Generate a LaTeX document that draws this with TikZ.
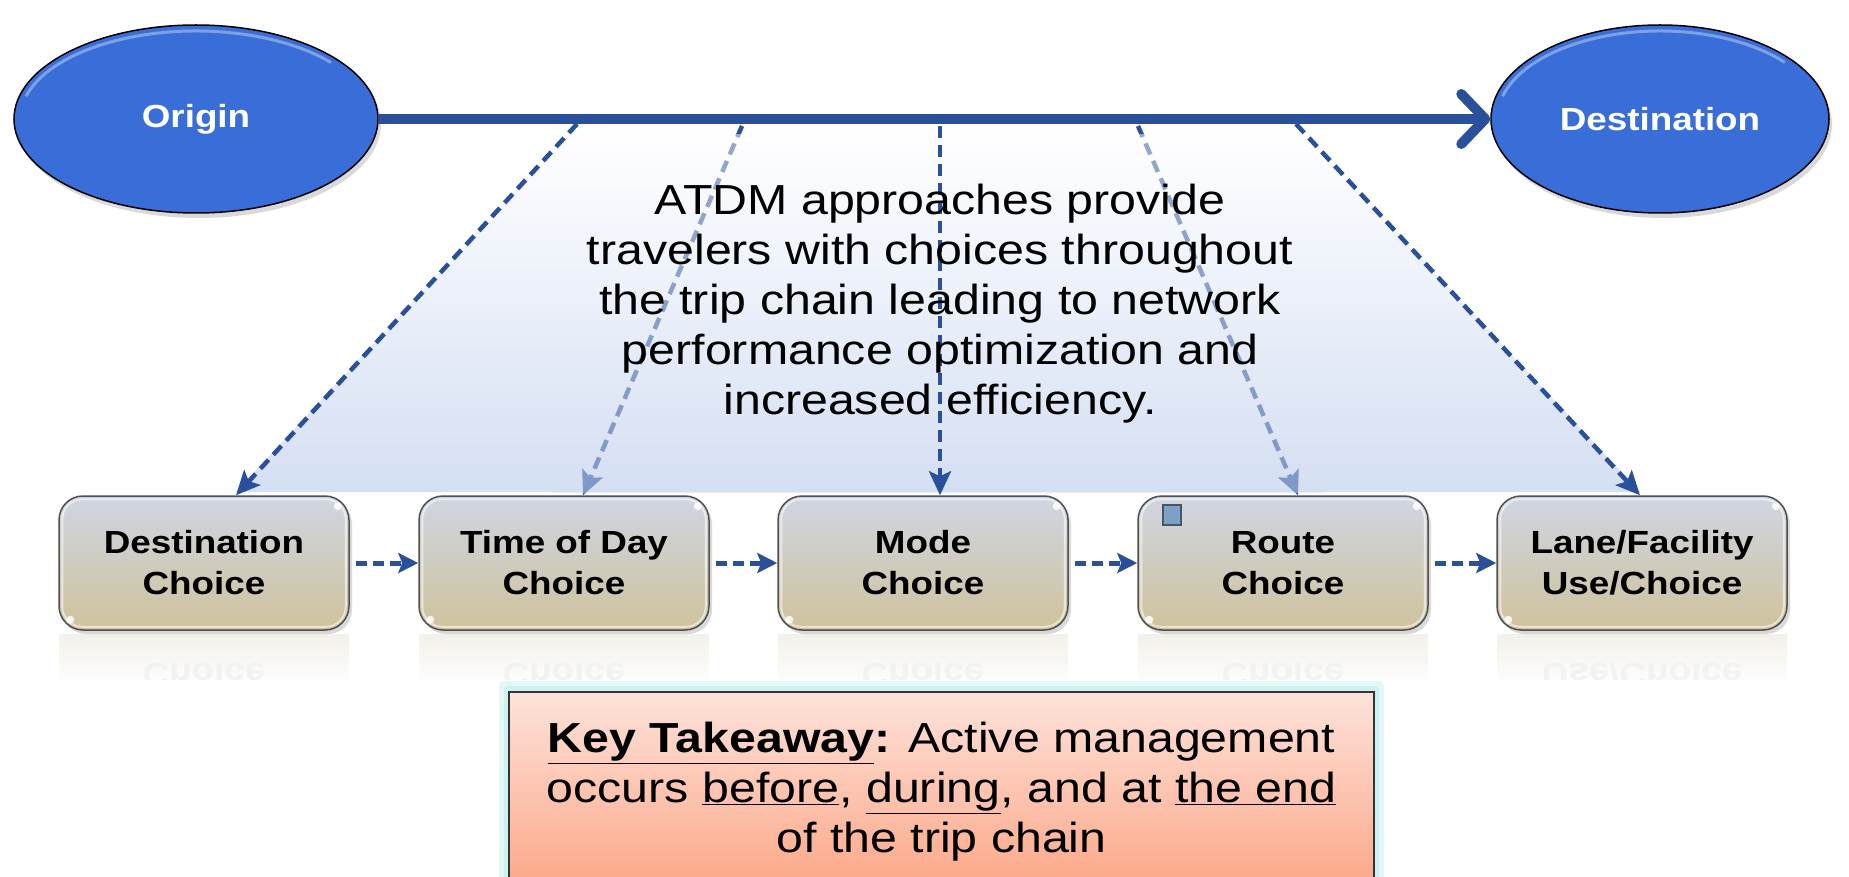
\documentclass[tikz,border=0pt]{standalone}
\usepackage{fontspec}
\setmainfont{Liberation Sans}[FakeStretch=1.15]
\usetikzlibrary{arrows.meta,shapes.geometric,shadows,calc}

\definecolor{ovalblue}{RGB}{57,110,216}
\definecolor{linkblue}{RGB}{42,80,156}
\definecolor{bandblue}{RGB}{213,223,243}
\definecolor{boxtop}{RGB}{207,213,226}
\definecolor{boxmid}{RGB}{226,223,209}
\definecolor{boxbot}{RGB}{207,194,156}
\definecolor{boxedge}{RGB}{80,80,80}
\definecolor{reflect}{RGB}{242,240,233}
\definecolor{keytop}{RGB}{253,226,218}
\definecolor{keybot}{RGB}{252,166,134}
\definecolor{glow}{RGB}{200,240,240}
\definecolor{sqfill}{RGB}{125,160,196}
\definecolor{sqedge}{RGB}{70,85,100}

\tikzset{
  oval/.style={ellipse, draw=black, line width=1.5pt, fill=ovalblue, inner sep=0pt,
    text=white, font=\bfseries\fontsize{32}{38}\selectfont,
    drop shadow={shadow xshift=3pt, shadow yshift=-5pt, opacity=.3}},
  choice/.style={rectangle, rounded corners=24pt, draw=boxedge, line width=1.5pt,
    top color=boxtop, middle color=boxmid, bottom color=boxbot,
    minimum width=290pt, minimum height=134pt, align=center, inner sep=0pt,
    font=\bfseries\fontsize{32}{41}\selectfont,
    drop shadow={shadow xshift=3pt, shadow yshift=-4pt, opacity=.3}},
  mirror/.style={text=black!5, align=center, font=\bfseries\fontsize{32}{41}\selectfont},
  mainlink/.style={draw=linkblue, line width=10pt,
    -{Straight Barb[length=24pt, width=50pt, line cap=round, line join=round]}},
  dlink/.style={draw=linkblue, line width=4.5pt, dash pattern=on 12pt off 7pt,
    -{Stealth[length=24pt, width=22pt, inset=5pt]}},
  hlink/.style={draw=linkblue, line width=5pt, dash pattern=on 11pt off 6pt,
    shorten <=6pt, -{Stealth[length=20pt, width=20pt, inset=4pt]}},
  gloss/.style={draw=white, opacity=.55, line width=2pt, rounded corners=20pt},
}

\begin{document}
\begin{tikzpicture}[x=1pt, y=-1pt]
\useasboundingbox (0,0) rectangle (1849,877);

% start points of the dashed links on the main trip line
\coordinate (s1) at (577,124);
\coordinate (s2) at (742,126);
\coordinate (s3) at (940,126);
\coordinate (s4) at (1138,126);
\coordinate (s5) at (1296,124);

% light blue fan below the trip line
\shade[top color=white, bottom color=bandblue] (s1) -- (s5) -- (1640,492) -- (236,492) -- cycle;

% faint reflections under the choice boxes
\begin{scope}
  \clip (0,634) rectangle (1849,679);
  \foreach \cx/\txt in {204/Choice, 564/Choice, 923/Choice, 1283/Choice, 1642/Use\slash Choice} {
    \shade[top color=reflect, bottom color=white] (\cx-145,632) rectangle (\cx+145,690);
    \node[mirror] at (\cx,675) {\scalebox{1}[-1]{\txt}};
  }
\end{scope}

% choice boxes
\node[choice] (b1) at (204,563) {Destination\\Choice};
\node[choice] (b2) at (564,563) {Time of Day\\Choice};
\node[choice] (b3) at (923,563) {Mode\\Choice};
\node[choice] (b4) at (1283,563) {Route\\Choice};
\node[choice] (b5) at (1642,563) {Lane/Facility\\Use/Choice};
\foreach \b in {b1,b2,b3,b4,b5} {
  \draw[gloss] ([shift={(4pt,-4pt)}]\b.north west) rectangle ([shift={(-4pt,4pt)}]\b.south east);
  \fill[white, opacity=.85] ([shift={(12pt,11pt)}]\b.south west) circle (4pt);
  \fill[white, opacity=.85] ([shift={(-12pt,-11pt)}]\b.north east) circle (4pt);
}
\node[draw=sqedge, fill=sqfill, line width=1.5pt, minimum width=18pt, minimum height=20pt, inner sep=0pt] (sq) at (1172,515) {};

% origin and destination
\node[oval, minimum width=364pt, minimum height=188pt] (origin) at (196,119) {Origin};
\node[oval, minimum width=338pt, minimum height=188pt] (dest) at (1660,119) {Destination};
\draw[white, opacity=.35, line width=3pt] (origin.center) ++(165:176pt and 88pt)
  arc[start angle=165, end angle=40, x radius=176pt, y radius=88pt];
\draw[white, opacity=.35, line width=3pt] (dest.center) ++(165:163pt and 88pt)
  arc[start angle=165, end angle=40, x radius=163pt, y radius=88pt];

% trip line
\draw[mainlink] (origin) -- (dest);

% links that pass behind the message panel
\draw[dlink] (s2) -- ([xshift=19pt]b2.north);
\draw[dlink] (s4) -- ([xshift=15pt]b4.north);

% message panel
\shade[top color=white, bottom color=bandblue, opacity=.5] (553,135) rectangle (1324,492);

% links drawn over the panel
\draw[dlink] (s1) -- ([xshift=32pt]b1.north);
\draw[dlink] (s3) -- ([xshift=17pt]b3.north);
\draw[dlink] (s5) -- ([xshift=-2pt]b5.north);

\node[align=center, font=\fontsize{42}{50}\selectfont] (msg) at (940,304)
  {ATDM approaches provide\\
   travelers with choices throughout\\
   the trip chain leading to network\\
   performance optimization and\\
   increased efficiency.};

% links between successive choices
\draw[hlink] (b1) -- (b2);
\draw[hlink] (b2) -- (b3);
\draw[hlink] (b3) -- (b4);
\draw[hlink] (b4) -- (b5);

% key takeaway panel
\fill[glow, opacity=.5, rounded corners=5pt] (499,681) rectangle (1384,890);
\fill[glow, opacity=.8, rounded corners=3pt] (504,686) rectangle (1379,890);
\node[draw=black!80, line width=1.5pt, top color=keytop, bottom color=keybot,
      minimum width=865pt, minimum height=200pt, align=center, inner sep=0pt,
      font=\fontsize{42}{50}\selectfont] (key) at (941.5,792)
  {\underline{\textbf{Key Takeaway}}\textbf{:} Active management\\
   occurs \underline{before}, \underline{during}, and at \underline{the end}\\
   of the trip chain};
\end{tikzpicture}
\end{document}
